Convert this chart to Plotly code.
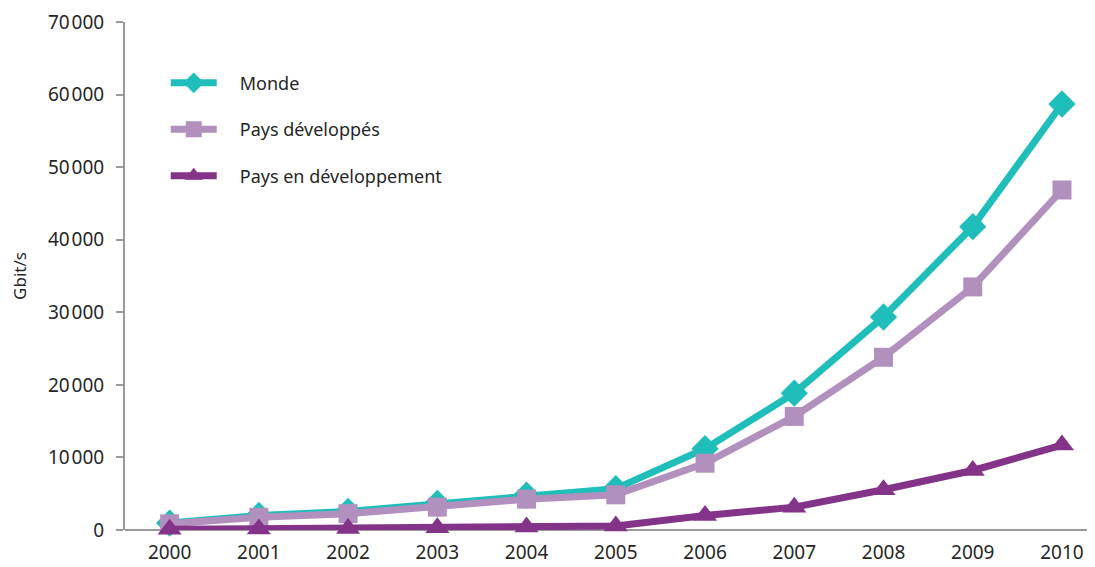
import plotly.graph_objects as go

years = ["2000", "2001", "2002", "2003", "2004", "2005", "2006", "2007", "2008", "2009", "2010"]
monde = [950, 2000, 2550, 3650, 4800, 5700, 11200, 18850, 29350, 41800, 58700]
developpes = [850, 1750, 2250, 3150, 4250, 4850, 9200, 15650, 23800, 33500, 46850]
en_developpement = [100, 150, 200, 300, 400, 550, 2000, 3150, 5550, 8200, 11700]

y_tickvals = [0, 10000, 20000, 30000, 40000, 50000, 60000, 70000]
y_ticktext = ["0", "10\u200a000", "20\u200a000", "30\u200a000", "40\u200a000", "50\u200a000", "60\u200a000", "70\u200a000"]

FONT = "Noto Sans"
TXT = "#262626"
PAD = "\u2002\u2002"

fig = go.Figure()
fig.add_trace(go.Scatter(x=years, y=monde, name=PAD + "Monde", mode="lines+markers",
                         line=dict(color="#20BEBA", width=7),
                         marker=dict(symbol="diamond", size=21, color="#20BEBA"),
                         cliponaxis=False, legendgroup="a"))
fig.add_trace(go.Scatter(x=years, y=developpes, name=PAD + "Pays développés", mode="lines+markers",
                         line=dict(color="#B290BE", width=7),
                         marker=dict(symbol="square", size=19, color="#B290BE"),
                         cliponaxis=False, legendgroup="b"))
fig.add_trace(go.Scatter(x=years, y=en_developpement, name=PAD + "Pays en développement", mode="lines+markers",
                         line=dict(color="#843488", width=7),
                         marker=dict(symbol="triangle-up", size=21, color="#843488"),
                         cliponaxis=False, legendgroup="c"))

fig.update_layout(
    width=1087, height=559,
    margin=dict(l=117, r=0, t=14, b=37),
    paper_bgcolor="white", plot_bgcolor="white",
    font=dict(family=FONT, size=19, color=TXT),
    showlegend=True,
    legend=dict(x=0.042, y=0.916, xanchor="left", yanchor="top",
                font=dict(family=FONT, size=18, color=TXT),
                tracegroupgap=20, itemwidth=46, bgcolor="rgba(0,0,0,0)"),
    xaxis=dict(type="category", range=[-0.5, 10.37], showgrid=False, zeroline=False,
               showline=False, ticks="", ticklabelstandoff=9, tickfont=dict(size=19, color=TXT)),
    yaxis=dict(range=[0, 70000], tickvals=y_tickvals, ticktext=y_ticktext,
               showgrid=False, zeroline=True, zerolinecolor="#9a9a9a", zerolinewidth=2,
               showline=True, linecolor="#9a9a9a", linewidth=2,
               ticks="outside", ticklen=7, tickcolor="#9a9a9a", tickwidth=2,
               ticklabelstandoff=8,
               tickfont=dict(size=19, color=TXT),
               title=dict(text="Gbit/s", font=dict(size=17, color=TXT), standoff=22)),
)

fig.write_html("out.html")
